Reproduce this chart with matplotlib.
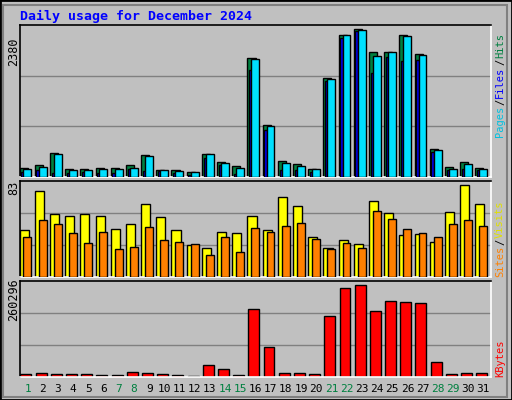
import matplotlib
matplotlib.use("Agg")
import matplotlib.pyplot as plt
from matplotlib.patches import Rectangle

days = list(range(1, 32))
hits = [151, 188, 393, 135, 135, 151, 151, 199, 361, 118, 118, 86, 377, 248, 183, 1912,
        829, 264, 215, 135, 1589, 2289, 2380, 2010, 2010, 2289, 1982, 458, 167, 248, 151]
files = [135, 167, 377, 118, 118, 135, 135, 151, 345, 118, 102, 86, 377, 232, 151, 1896,
         813, 232, 183, 135, 1572, 2289, 2364, 1944, 2010, 2272, 1960, 442, 135, 215, 135]
pages = [86, 118, 70, 70, 86, 70, 70, 135, 102, 102, 70, 38, 312, 199, 54, 1718,
         749, 118, 118, 86, 1540, 2235, 2348, 1669, 1928, 1863, 1879, 409, 118, 135, 118]
sites = [42, 78, 57, 55, 57, 55, 43, 48, 66, 54, 42, 29, 26, 41, 40, 55,
         42, 72, 64, 36, 26, 33, 30, 69, 58, 38, 39, 32, 59, 83, 66]
visits = [36, 51, 48, 40, 31, 41, 25, 27, 45, 33, 32, 30, 20, 36, 23, 44,
          41, 46, 49, 34, 25, 31, 26, 60, 52, 43, 40, 36, 48, 51, 46]
kbytes = [9500, 12350, 9500, 9500, 9500, 6650, 6650, 15200, 12350, 9500, 6650, 3800,
          35150, 23750, 6650, 191900, 83600, 12350, 12350, 9500, 171950, 251750, 260296,
          186200, 214700, 211850, 209000, 43700, 9500, 12350, 12350]
weekend = [1, 7, 8, 14, 15, 21, 22, 28, 29]

W, H = 512, 400
fig = plt.figure(figsize=(W / 100, H / 100), dpi=100)
fig.patch.set_facecolor("#C0C0C0")
mono = "DejaVu Sans Mono"

# bevelled frame
fig.patches.append(Rectangle((0, 0), 1, 1, transform=fig.transFigure, fill=False,
                             edgecolor="black", lw=2))
fig.patches.append(Rectangle((3 / W, 3 / H), 1 - 8 / W, 1 - 8 / H, transform=fig.transFigure,
                             fill=False, edgecolor="#808080", lw=1.5))


def mkax(top, bottom):
    ax = fig.add_axes([20 / W, 1 - bottom / H, 471 / W, (bottom - top) / H])
    ax.set_facecolor("#C0C0C0")
    for s in ax.spines.values():
        s.set_color("white")
        s.set_linewidth(1.2)
    ax.spines["left"].set_color("black")
    ax.spines["top"].set_color("black")
    ax.set_xlim(0.5, 31.5)
    ax.set_xticks([])
    ax.set_yticks([])
    return ax


ekw = dict(edgecolor="black", linewidth=1, align="edge")

ax1 = mkax(25, 177)
top1 = 2380 * 454 / 442
ax1.set_ylim(0, top1)
for g in (top1 / 3, 2 * top1 / 3):
    ax1.axhline(g, color="#808080", lw=1)
ax1.bar([d - 0.53 for d in days], hits, width=0.53, color="#008040", zorder=2, **ekw)
ax1.bar([d - 0.42 for d in days], pages, width=0.15, color="#0000FF", zorder=3, **ekw)
ax1.bar([d - 0.27 for d in days], files, width=0.52, color="#00E0FF", zorder=4, **ekw)

ax2 = mkax(181, 277)
top2 = 83 * 287 / 275
ax2.set_ylim(0, top2)
for g in (top2 / 3, 2 * top2 / 3):
    ax2.axhline(g, color="#808080", lw=1)
ax2.bar([d - 0.53 for d in days], sites, width=0.6, color="#FFFF00", zorder=2, **ekw)
ax2.bar([d - 0.27 for d in days], visits, width=0.52, color="#FF8000", zorder=3, **ekw)

ax3 = mkax(281, 377)
top3 = 260296 * 286 / 274
ax3.set_ylim(0, top3)
for g in (top3 / 3, 2 * top3 / 3):
    ax3.axhline(g, color="#808080", lw=1)
ax3.bar([d - 0.47 for d in days], kbytes, width=0.72, color="#FF0000", zorder=2, **ekw)
ax3.set_xticks(days)
ax3.set_xticklabels([str(d) for d in days], fontsize=8, family=mono)
ax3.tick_params(length=0, pad=5)
for lab, d in zip(ax3.get_xticklabels(), days):
    lab.set_color("#008040" if d in weekend else "black")

fig.text(20 / W, 1 - 16 / H, "Daily usage for December 2024", color="#0000FF",
         fontsize=9.5, fontweight="bold", family=mono, va="center")

for txt, yc in (("2380", 52), ("83", 188), ("260296", 300)):
    fig.text(14 / W, 1 - yc / H, txt, rotation=90, ha="center", va="center",
             fontsize=8.5, family=mono)


def side(parts, ybottom, fs=7.5):
    # stack coloured pieces of a rotated label from bottom to top
    step = 0.6 * fs * 100 / 72
    y = ybottom
    for s, c in parts:
        fig.text(500 / W, 1 - y / H, s, rotation=90, color=c, ha="center",
                 va="bottom", fontsize=fs, family=mono)
        y -= len(s) * step + 1


side([("Pages", "#00C0E0"), ("/", "black"), ("Files", "#0000FF"), ("/", "black"),
      ("Hits", "#008040")], 137)
side([("Sites", "#FF8000"), ("/", "black"), ("Visits", "#E0E000")], 277)
side([("KBytes", "#FF0000")], 377)

fig.savefig("out.png", dpi=100, facecolor=fig.get_facecolor())
